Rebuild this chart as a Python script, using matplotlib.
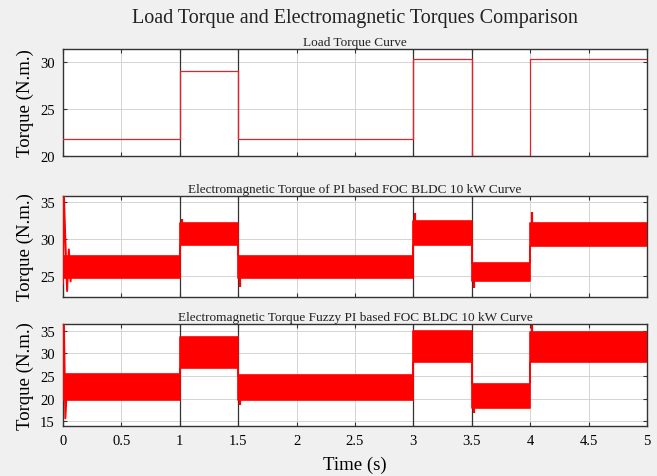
import matplotlib
matplotlib.use('Agg')
import matplotlib.pyplot as plt
from matplotlib.ticker import FormatStrFormatter

# switching instants of the load profile (s)
time_edges = [0, 1, 1.5, 3, 3.5, 4, 5]
load_torque = [21.8, 29.1, 21.8, 30.3, 20.0, 30.3]

# ripple band of the electromagnetic torque, PI controller
pi_low = [24.7, 29.2, 24.7, 29.2, 24.3, 29.1]
pi_high = [27.7, 32.2, 27.7, 32.4, 26.8, 32.2]
pi_start_t = [0, 0.008, 0.02, 0.035, 0.05, 0.065, 0.08]
pi_start_v = [24.0, 35.8, 30.0, 23.0, 28.6, 24.3, 27.6]
pi_peak_t = [1.0, 1.5, 3.0, 3.5, 4.0]
pi_peak_v = [32.7, 23.5, 33.5, 23.4, 33.6]

# ripple band of the electromagnetic torque, fuzzy PI controller
fz_low = [19.8, 26.8, 19.8, 28.1, 18.0, 28.1]
fz_high = [25.4, 33.6, 25.3, 34.9, 23.3, 34.8]
fz_start_t = [0, 0.008, 0.02, 0.035]
fz_start_v = [21.0, 36.3, 15.7, 23.0]
fz_peak_t = [1.5, 3.5, 4.0]
fz_peak_v = [18.6, 16.8, 36.2]

marker_times = [1, 1.5, 3, 3.5]
time_ticks = [0, 0.5, 1, 1.5, 2, 2.5, 3, 3.5, 4, 4.5, 5]

plt.rcParams['font.family'] = ['Liberation Serif', 'DejaVu Serif']

fig = plt.figure(figsize=(6.57, 4.77), dpi=100, facecolor='#f0f0f0')
left, width = 63 / 657, 584 / 657
ax1 = fig.add_axes([left, 1 - 157 / 477, width, 107 / 477])
ax2 = fig.add_axes([left, 1 - 298 / 477, width, 101 / 477])
ax3 = fig.add_axes([left, 1 - 427 / 477, width, 102 / 477])

fig.text(0.54, 1 - 18 / 477, 'Load Torque and Electromagnetic Torques Comparison',
         ha='center', va='center', fontsize=14.5, color='#222222')


def style(ax, title, ylim, yticks, show_x):
    ax.set_facecolor('white')
    ax.set_xlim(0, 5)
    ax.set_ylim(*ylim)
    ax.set_yticks(yticks)
    ax.set_xticks(time_ticks)
    ax.xaxis.set_major_formatter(FormatStrFormatter('%g'))
    ax.grid(True, color='#d4d4d4', lw=0.7)
    ax.set_axisbelow(True)
    for t in marker_times:
        ax.axvline(t, color='#333333', lw=0.9, zorder=3)
    ax.tick_params(direction='in', labelsize=10.5, length=3, color='#333333',
                   top=True, right=True, pad=6)
    if not show_x:
        ax.tick_params(labelbottom=False)
    for s in ax.spines.values():
        s.set_color('#333333')
        s.set_linewidth(1.0)
    ax.set_title(title, fontsize=9.5, pad=3, color='#222222')
    ax.set_ylabel('Torque (N.m.)', fontsize=13.5, labelpad=4)


# load torque
ax1.step(time_edges, load_torque + load_torque[-1:], where='post', color='#e8202a', lw=0.9, zorder=4)
style(ax1, 'Load Torque Curve', (20, 31.4), [20, 25, 30], False)


def band(ax, low, high, st, sv, pt, pv):
    lo = low + low[-1:]
    hi = high + high[-1:]
    ax.fill_between(time_edges, lo, hi, step='post', color='#ff0000', lw=0, zorder=4)
    ax.step(time_edges, lo, where='post', color='#ff0000', lw=1.2, zorder=4)
    ax.step(time_edges, hi, where='post', color='#ff0000', lw=1.2, zorder=4)
    ax.plot(st, sv, color='#ff0000', lw=1.4, zorder=4)
    for t, v in zip(pt, pv):
        i = time_edges.index(t)
        mid = (low[i] + high[i]) / 2
        ax.vlines(t + 0.015, mid, v, color='#ff0000', lw=1.6, zorder=4)


band(ax2, pi_low, pi_high, pi_start_t, pi_start_v, pi_peak_t, pi_peak_v)
style(ax2, 'Electromagnetic Torque of PI based FOC BLDC 10 kW Curve', (22.2, 35.8), [25, 30, 35], False)

band(ax3, fz_low, fz_high, fz_start_t, fz_start_v, fz_peak_t, fz_peak_v)
style(ax3, 'Electromagnetic Torque Fuzzy PI based FOC BLDC 10 kW Curve', (14, 36.5), [15, 20, 25, 30, 35], True)
ax3.set_xlabel('Time (s)', fontsize=13.5, labelpad=6)

fig.savefig('out.png', dpi=100, facecolor=fig.get_facecolor())
